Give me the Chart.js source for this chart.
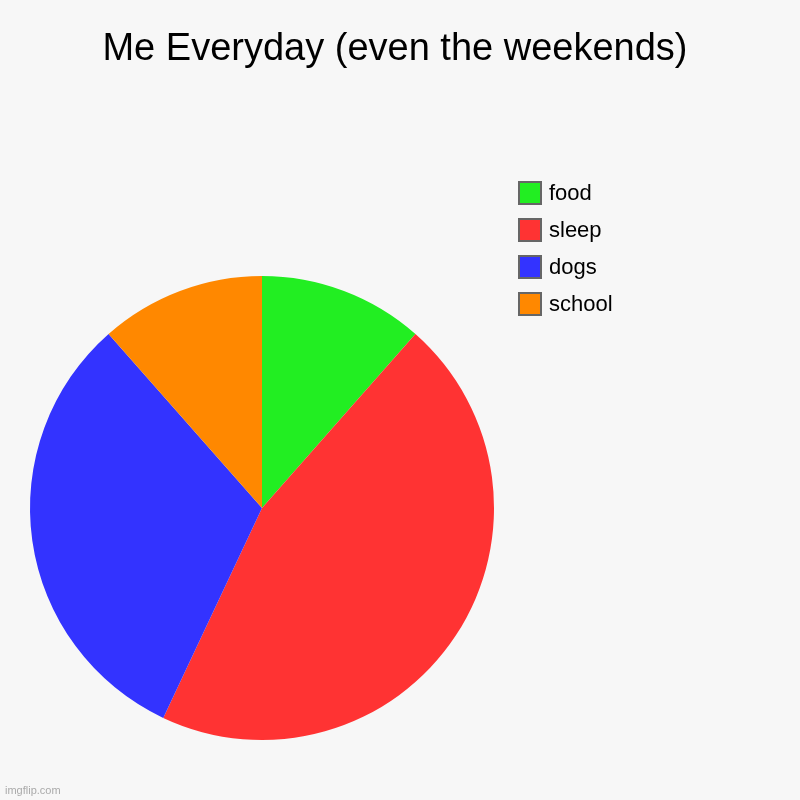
<!DOCTYPE html>
<html>
<head>
<meta charset="utf-8">
<script src="https://cdn.jsdelivr.net/npm/chart.js@4"></script>
<style>
  html, body { margin: 0; padding: 0; background: #f7f7f7; }
  #wrap { position: relative; width: 800px; height: 800px; background: #f7f7f7; font-family: "Liberation Sans", Arial, sans-serif; }
  #title { position: absolute; left: 0; top: 28px; width: 790px; text-align: center; font-size: 38px; line-height: 38px; color: #000; }
  #legend { position: absolute; left: 518px; top: 181px; }
  .item { height: 24px; margin-bottom: 13px; display: flex; align-items: center; font-size: 22px; color: #000; }
  .box { width: 20px; height: 20px; border: 2px solid #666; margin-right: 7px; }
  #mark { position: absolute; left: 5px; top: 784px; font-size: 11px; color: #aaa; }
  canvas { position: absolute; left: 0; top: 0; }
</style>
</head>
<body>
<div id="wrap">
  <canvas id="pie" width="800" height="800"></canvas>
  <div id="title">Me Everyday (even the weekends)</div>
  <div id="legend"></div>
  <div id="mark">imgflip.com</div>
</div>
<script>
  const labels = ['food', 'sleep', 'dogs', 'school'];
  const values = [11.5, 45.5, 31.5, 11.5];
  const colors = ['#22ee22', '#ff3333', '#3333ff', '#ff8800'];

  // legend built from the same arrays
  const legend = document.getElementById('legend');
  labels.forEach(function (name, i) {
    const row = document.createElement('div');
    row.className = 'item';
    const box = document.createElement('div');
    box.className = 'box';
    box.style.background = colors[i];
    row.appendChild(box);
    row.appendChild(document.createTextNode(name));
    legend.appendChild(row);
  });

  const ctx = document.getElementById('pie');

  new Chart(ctx, {
    type: 'pie',
    data: {
      labels: labels,
      datasets: [{
        data: values,
        backgroundColor: colors,
        borderWidth: 0
      }]
    },
    options: {
      responsive: false,
      animation: false,
      devicePixelRatio: 1,
      layout: {
        padding: { left: 30, right: 306, top: 276, bottom: 60 }
      },
      plugins: {
        legend: { display: false },
        tooltip: { enabled: false }
      }
    }
  });
</script>
</body>
</html>
